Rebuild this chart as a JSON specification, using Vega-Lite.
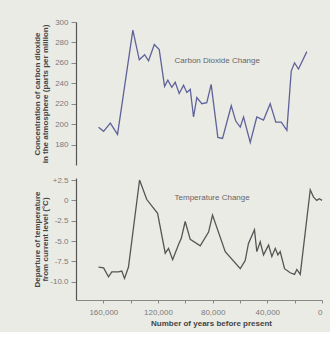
{
  "$schema": "https://vega.github.io/schema/vega-lite/v6.json",
  "background": "#ebebe6",
  "padding": {"left": 32, "top": 18, "right": 5, "bottom": 5},
  "spacing": 13,
  "bounds": "flush",
  "config": {
    "view": {"stroke": null},
    "font": "Liberation Sans",
    "axis": {
      "grid": false,
      "labelOverlap": false,
      "tickCount": 30,
      "labelFontSize": 8,
      "labelColor": "#7a7a7a",
      "labelFont": "Liberation Sans",
      "tickColor": "#888888",
      "tickSize": 5,
      "labelPadding": 3,
      "domainColor": "#555555",
      "domainWidth": 1.2,
      "titleFont": "Liberation Sans",
      "titleFontSize": 8,
      "titleFontWeight": "bold",
      "titleColor": "#444444",
      "titleLineHeight": 8
    }
  },
  "datasets": {
    "co2": [
      {"years": 163500, "ppm": 197}, {"years": 159800, "ppm": 193}, {"years": 154900, "ppm": 201},
      {"years": 149600, "ppm": 190}, {"years": 138400, "ppm": 292}, {"years": 133700, "ppm": 263},
      {"years": 129800, "ppm": 268}, {"years": 126900, "ppm": 262}, {"years": 122700, "ppm": 278},
      {"years": 119100, "ppm": 273}, {"years": 115200, "ppm": 237}, {"years": 112800, "ppm": 243},
      {"years": 109900, "ppm": 236}, {"years": 107400, "ppm": 241}, {"years": 104500, "ppm": 230},
      {"years": 101300, "ppm": 238}, {"years": 98900, "ppm": 231}, {"years": 96400, "ppm": 234},
      {"years": 94000, "ppm": 207}, {"years": 91600, "ppm": 226}, {"years": 87900, "ppm": 220},
      {"years": 84300, "ppm": 221}, {"years": 81100, "ppm": 239}, {"years": 76200, "ppm": 187},
      {"years": 72800, "ppm": 186}, {"years": 66400, "ppm": 218}, {"years": 63100, "ppm": 203},
      {"years": 59800, "ppm": 197}, {"years": 57400, "ppm": 207}, {"years": 52500, "ppm": 182},
      {"years": 47700, "ppm": 207}, {"years": 42800, "ppm": 204}, {"years": 37900, "ppm": 220},
      {"years": 33800, "ppm": 202}, {"years": 29800, "ppm": 202}, {"years": 25700, "ppm": 194},
      {"years": 22500, "ppm": 252}, {"years": 20100, "ppm": 260}, {"years": 17200, "ppm": 254},
      {"years": 11100, "ppm": 271}
    ],
    "temp": [
      {"years": 163500, "dt": -8.2}, {"years": 159800, "dt": -8.3}, {"years": 156200, "dt": -9.4},
      {"years": 153800, "dt": -8.8}, {"years": 148900, "dt": -8.8}, {"years": 146500, "dt": -8.7},
      {"years": 144500, "dt": -9.6}, {"years": 141600, "dt": -8.2}, {"years": 133500, "dt": 2.5},
      {"years": 128200, "dt": 0.1}, {"years": 120300, "dt": -1.6}, {"years": 114700, "dt": -6.5},
      {"years": 112300, "dt": -5.9}, {"years": 109300, "dt": -7.3}, {"years": 104900, "dt": -5.4},
      {"years": 103000, "dt": -4.7}, {"years": 100100, "dt": -2.6}, {"years": 96400, "dt": -4.8},
      {"years": 89100, "dt": -5.6}, {"years": 83000, "dt": -3.9}, {"years": 80100, "dt": -1.8},
      {"years": 70800, "dt": -6.3}, {"years": 59800, "dt": -8.4}, {"years": 56200, "dt": -7.4},
      {"years": 53800, "dt": -5.3}, {"years": 49400, "dt": -3.6}, {"years": 47700, "dt": -6.3},
      {"years": 45200, "dt": -5.1}, {"years": 42800, "dt": -6.7}, {"years": 39100, "dt": -5.5},
      {"years": 36700, "dt": -6.9}, {"years": 34200, "dt": -5.9}, {"years": 32300, "dt": -6.7},
      {"years": 30600, "dt": -6.3}, {"years": 27400, "dt": -8.4}, {"years": 23300, "dt": -8.9},
      {"years": 20100, "dt": -9.1}, {"years": 18400, "dt": -8.5}, {"years": 15900, "dt": -9.1},
      {"years": 8600, "dt": 1.3}, {"years": 6200, "dt": 0.4}, {"years": 3800, "dt": 0.0},
      {"years": 2000, "dt": 0.2}, {"years": 0, "dt": 0.0}
    ],
    "co2label": [{"years": 107900, "ppm": 262, "label": "Carbon Dioxide Change"}],
    "templabel": [{"years": 107900, "dt": 0.25, "label": "Temperature Change"}]
  },
  "vconcat": [
    {
      "width": 246,
      "height": 143,
      "layer": [
        {
          "data": {"name": "co2"},
          "mark": {"type": "line", "color": "#5f6299", "strokeWidth": 1.3},
          "encoding": {
            "x": {"field": "years", "type": "quantitative", "scale": {"domain": [180000, 0], "nice": false}, "axis": null},
            "y": {
              "field": "ppm", "type": "quantitative",
              "scale": {"domain": [160, 300], "nice": false, "zero": false},
              "axis": {
                "values": [180, 200, 220, 240, 260, 280, 300],
                "tickCount": 30,
                "labelOverlap": false,
                "title": ["Concentration of carbon dioxide", "in the atmosphere (parts per million)"],
                "titleX": -35, "titleY": 71.5, "titleAngle": -90, "titleAlign": "center", "titleBaseline": "bottom"
              }
            }
          }
        },
        {
          "data": {"name": "co2label"},
          "mark": {"type": "text", "align": "left", "baseline": "middle", "fontSize": 8, "color": "#666666"},
          "encoding": {
            "x": {"field": "years", "type": "quantitative"},
            "y": {"field": "ppm", "type": "quantitative"},
            "text": {"field": "label"}
          }
        }
      ]
    },
    {
      "width": 246,
      "height": 122,
      "layer": [
        {
          "data": {"name": "temp"},
          "mark": {"type": "line", "color": "#555555", "strokeWidth": 1.3},
          "encoding": {
            "x": {
              "field": "years", "type": "quantitative",
              "scale": {"domain": [180000, 0], "nice": false},
              "axis": {
                "values": [160000, 140000, 120000, 100000, 80000, 60000, 40000, 20000, 0],
                "tickCount": 30,
                "labelOverlap": false,
                "labelExpr": "datum.value % 40000 == 0 ? format(datum.value, ',') : ''",
                "title": "Number of years before present",
                "titleX": 135, "titleAlign": "center", "titlePadding": 3,
                "tickSize": 3, "labelPadding": 5, "domainColor": "#888888", "domainWidth": 1
              }
            },
            "y": {
              "field": "dt", "type": "quantitative",
              "scale": {"domain": [-12.25, 2.75], "nice": false, "zero": false},
              "axis": {
                "values": [2.5, 0, -2.5, -5, -7.5, -10],
                "tickCount": 30,
                "labelOverlap": false,
                "labelExpr": "datum.value > 0 ? '+' + format(datum.value, '.1f') : (datum.value == 0 ? '0' : '-' + format(-datum.value, '.1f'))",
                "title": ["Departure of temperature", "from current level (°C)"],
                "titleX": -35, "titleY": 61, "titleAngle": -90, "titleAlign": "center", "titleBaseline": "bottom"
              }
            }
          }
        },
        {
          "data": {"name": "templabel"},
          "mark": {"type": "text", "align": "left", "baseline": "middle", "fontSize": 8, "color": "#666666"},
          "encoding": {
            "x": {"field": "years", "type": "quantitative"},
            "y": {"field": "dt", "type": "quantitative"},
            "text": {"field": "label"}
          }
        }
      ]
    }
  ]
}
